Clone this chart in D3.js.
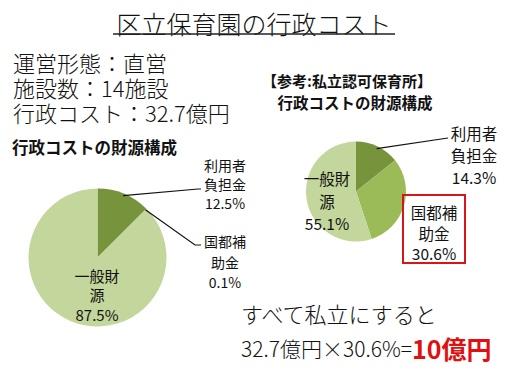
<!DOCTYPE html>
<html>
<head>
<meta charset="utf-8">
<script src="https://cdn.jsdelivr.net/npm/d3@7"></script>
<style>
  body { margin: 0; background: #fff; }
  svg text { font-family: "Noto Sans CJK JP", "Noto Sans", sans-serif; fill: #111; }
</style>
</head>
<body>
<div class="gv-chart"></div>
<script>
// data
var categories = ["利用者負担金", "国都補助金", "一般財源"];
var wardValues = [12.5, 0.1, 87.5];      // 区立保育園
var privateValues = [14.3, 30.6, 55.1];  // 私立認可保育所
var labelLines = [["利用者", "負担金"], ["国都補", "助金"], ["一般財", "源"]];
var infoLines = ["運営形態：直営", "施設数：14施設", "行政コスト：32.7億円"];

var colors = ["#77933c", "#9bbb59", "#c3d69b"];

var width = 520, height = 379;

var svg = d3.select(".gv-chart").append("svg")
    .attr("width", width).attr("height", height);

// title
svg.append("text")
    .attr("x", 254).attr("y", 23)
    .attr("text-anchor", "middle").attr("dominant-baseline", "central")
    .style("font-size", "25px").style("font-weight", 300)
    .text("区立保育園の行政コスト");
svg.append("line")
    .attr("x1", 113).attr("x2", 395).attr("y1", 34).attr("y2", 34)
    .attr("stroke", "#222").attr("stroke-width", 1.3);

svg.selectAll(".info").data(infoLines).enter().append("text")
    .attr("class", "info")
    .attr("x", 13).attr("y", function(d, i) { return 62 + i * 25; })
    .attr("dominant-baseline", "central")
    .style("font-size", "22px").style("font-weight", 300)
    .text(function(d) { return d; });

// chart titles
svg.append("text")
    .attr("x", 12).attr("y", 147).attr("dominant-baseline", "central")
    .style("font-size", "16.5px").style("font-weight", "bold")
    .text("行政コストの財源構成");
svg.append("text")
    .attr("x", 347).attr("y", 80).attr("text-anchor", "middle").attr("dominant-baseline", "central")
    .style("font-size", "15px").style("font-weight", "bold")
    .text("【参考:私立認可保育所】");
svg.append("text")
    .attr("x", 355).attr("y", 102).attr("text-anchor", "middle").attr("dominant-baseline", "central")
    .style("font-size", "15.5px").style("font-weight", "bold")
    .text("行政コストの財源構成");

var pie = d3.pie().sort(null).value(function(d) { return d; });

function drawPie(values, cx, cy, r) {
  var g = svg.append("g").attr("transform", "translate(" + cx + "," + cy + ")");
  var arc = d3.arc().innerRadius(0).outerRadius(r);
  var arcs = pie(values);
  g.selectAll("path").data(arcs).enter().append("path")
      .attr("d", arc)
      .attr("fill", function(d, i) { return colors[i]; });
  return { g: g, arcs: arcs, r: r, cx: cx, cy: cy };
}

function edgePoint(p, a, k) {
  var ang = (a.startAngle + a.endAngle) / 2;
  return [p.cx + Math.sin(ang) * p.r * k, p.cy - Math.cos(ang) * p.r * k];
}

function leader(pts) {
  svg.append("path")
      .attr("d", d3.line()(pts))
      .attr("fill", "none").attr("stroke", "#111").attr("stroke-width", 1.2);
}

function label(lines, pct, x, y, gap, size) {
  var rows = lines.concat([pct.toFixed(1) + "%"]);
  svg.selectAll(null).data(rows).enter().append("text")
      .attr("x", x).attr("y", function(d, i) { return y + i * gap; })
      .attr("text-anchor", "middle").attr("dominant-baseline", "central")
      .style("font-size", size + "px")
      .text(function(d) { return d; });
}

// left pie
var left = drawPie(wardValues, 97.5, 257.5, 69);
var p0 = edgePoint(left, left.arcs[0], 0.97);
leader([p0, [198, 189], [201, 189]]);
label(labelLines[0], wardValues[0], 225, 165, 19, 14);
var p1 = edgePoint(left, left.arcs[1], 0.98);
leader([p1, [195, 245], [201, 245]]);
label(labelLines[1], wardValues[1], 225, 241, 20.5, 14);
label(labelLines[2], wardValues[2], 97, 275, 19.5, 15);

// right pie
var right = drawPie(privateValues, 356, 191.5, 50);
var q0 = edgePoint(right, right.arcs[0], 0.95);
leader([q0, [448, 138]]);
label(labelLines[0], privateValues[0], 474, 133, 22, 15.5);
label(labelLines[2], privateValues[2], 327, 178, 22.5, 15.5);
svg.append("rect")
    .attr("x", 403).attr("y", 195).attr("width", 62).attr("height", 68)
    .attr("fill", "none").attr("stroke", "#d9141b").attr("stroke-width", 2);
label(labelLines[1], privateValues[1], 434, 212, 20.5, 15.5);

// bottom note
svg.append("text")
    .attr("x", 241).attr("y", 313).attr("dominant-baseline", "central")
    .style("font-size", "22px").style("font-weight", 300)
    .text("すべて私立にすると");
var note = svg.append("text")
    .attr("x", 241).attr("y", 348).attr("dominant-baseline", "central")
    .style("font-size", "21px").style("font-weight", 300);
note.append("tspan").text("32.7億円×" + privateValues[1].toFixed(1) + "%=");
note.append("tspan")
    .style("fill", "#e01010").style("font-weight", "bold").style("font-size", "25px")
    .text("10億円");
</script>
</body>
</html>
